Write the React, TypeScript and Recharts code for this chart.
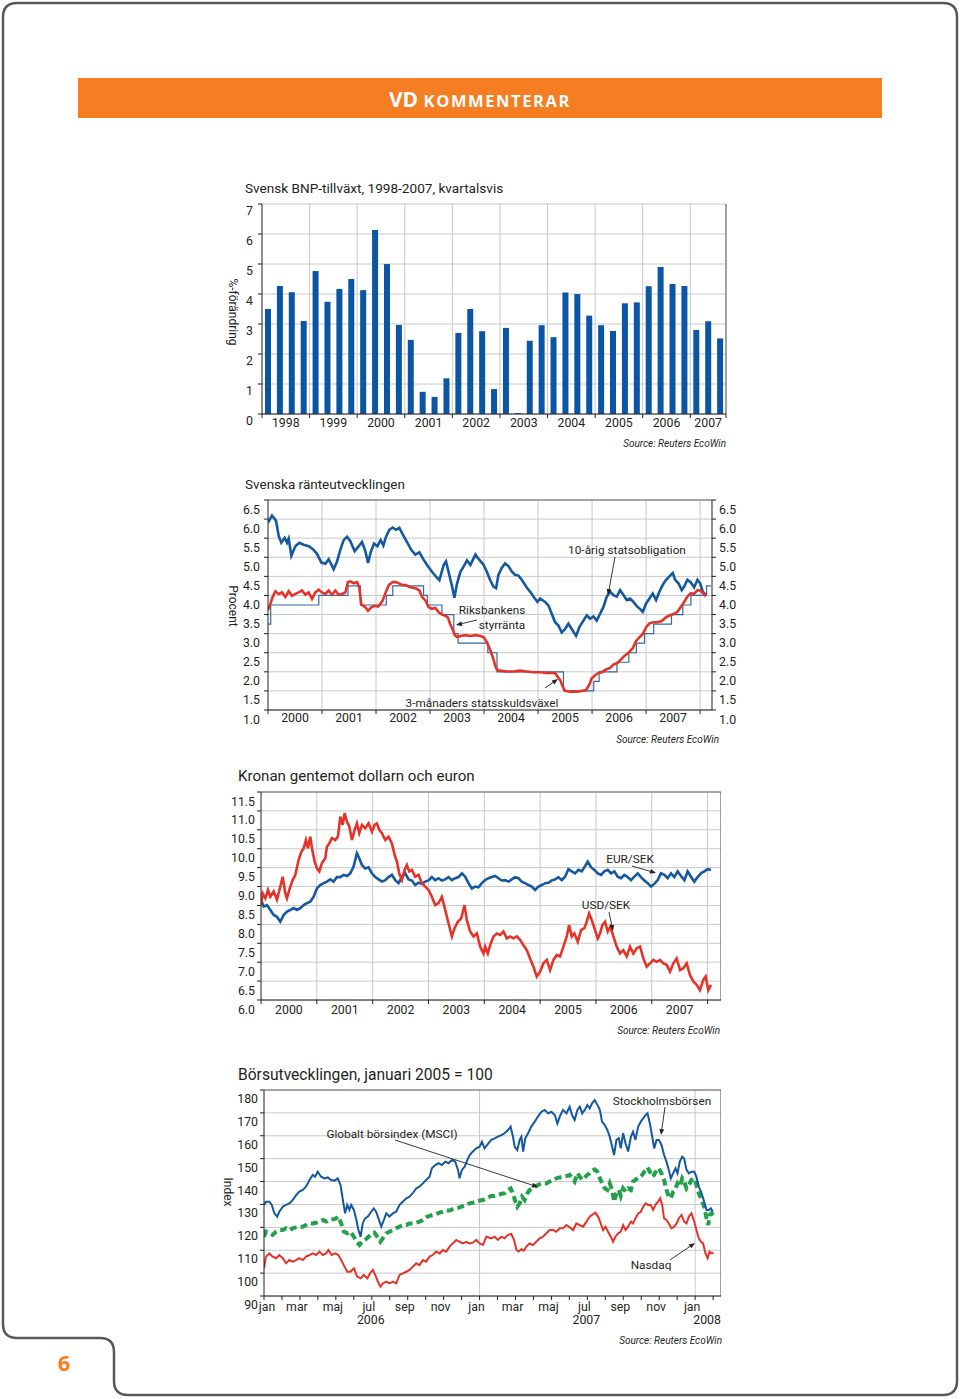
import React from "react";
import { BarChart, Bar, LineChart, Line, XAxis, YAxis, CartesianGrid, ReferenceLine } from "recharts";

type Pt = [number, number];

const FONT = "Roboto, 'DejaVu Sans', sans-serif";
const INK = "#231f20";
const GRID = "#c8c8c8";
const BLUE = "#14589f";
const RED = "#e4342a";
const GREEN = "#23a04a";
const ORANGE = "#f47e21";
const TICK_FS = 12.3;
const NOTE_FS = 11.8;

// ---------- Svensk BNP-tillväxt (kvartal, 1998Q1 - 2007Q3) ----------
const bnpYears = [1998, 1999, 2000, 2001, 2002, 2003, 2004, 2005, 2006, 2007];
const bnpGrowth = [
  3.5, 4.27, 4.06, 3.1, 4.77, 3.74, 4.17, 4.5, 4.13, 6.13, 5.0, 2.97, 2.47, 0.74, 0.57, 1.19,
  2.7, 3.5, 2.76, 0.83, 2.87, 0.03, 2.44, 2.96, 2.56, 4.05, 4.0, 3.28, 2.96, 2.77, 3.69, 3.72,
  4.26, 4.9, 4.33, 4.27, 2.8, 3.09, 2.52,
];
const bnpTicksY = [0, 1, 2, 3, 4, 5, 6, 7];

// ---------- Svenska ränteutvecklingen ----------
const rateYears = [2000, 2001, 2002, 2003, 2004, 2005, 2006, 2007];
const rateTicksY = [1, 1.5, 2, 2.5, 3, 3.5, 4, 4.5, 5, 5.5, 6, 6.5];
const bond10y: Pt[] = [
  [2000.0, 5.91], [2000.074, 6.09], [2000.148, 5.96], [2000.198, 5.56], [2000.247, 5.38], [2000.309, 5.51],
  [2000.352, 5.38], [2000.383, 5.49], [2000.432, 5.04], [2000.506, 5.29], [2000.58, 5.38], [2000.66, 5.33],
  [2000.753, 5.29], [2000.827, 5.22], [2000.907, 5.09], [2000.988, 4.86], [2001.062, 4.83], [2001.123, 4.95],
  [2001.216, 4.69], [2001.278, 4.89], [2001.34, 5.2], [2001.401, 5.45], [2001.463, 5.54], [2001.525, 5.42],
  [2001.605, 5.16], [2001.679, 5.29], [2001.741, 5.4], [2001.802, 5.16], [2001.852, 4.85], [2001.901, 5.13],
  [2001.963, 5.36], [2002.025, 5.29], [2002.086, 5.45], [2002.136, 5.31], [2002.185, 5.54], [2002.247, 5.72],
  [2002.309, 5.78], [2002.37, 5.72], [2002.432, 5.77], [2002.494, 5.6], [2002.574, 5.4], [2002.648, 5.2],
  [2002.728, 5.07], [2002.802, 5.13], [2002.883, 4.93], [2002.957, 4.77], [2003.037, 4.62], [2003.111, 4.49],
  [2003.173, 4.4], [2003.253, 4.8], [2003.296, 4.89], [2003.358, 4.53], [2003.407, 4.24], [2003.451, 3.94],
  [2003.5, 4.31], [2003.562, 4.62], [2003.623, 4.76], [2003.685, 4.92], [2003.747, 4.8], [2003.84, 5.07],
  [2003.914, 4.93], [2003.988, 4.81], [2004.049, 4.63], [2004.111, 4.41], [2004.173, 4.23], [2004.222, 4.19],
  [2004.266, 4.54], [2004.327, 4.72], [2004.389, 4.84], [2004.451, 4.77], [2004.512, 4.63], [2004.574, 4.54],
  [2004.636, 4.52], [2004.698, 4.41], [2004.79, 4.21], [2004.852, 4.1], [2004.914, 3.97], [2004.988, 3.83],
  [2005.037, 3.92], [2005.13, 3.83], [2005.191, 3.74], [2005.253, 3.52], [2005.315, 3.3], [2005.377, 3.21],
  [2005.438, 3.03], [2005.5, 3.12], [2005.562, 3.26], [2005.623, 3.12], [2005.704, 2.94], [2005.765, 3.17],
  [2005.84, 3.34], [2005.901, 3.48], [2005.963, 3.39], [2006.025, 3.45], [2006.086, 3.34], [2006.148, 3.52],
  [2006.21, 3.7], [2006.272, 3.97], [2006.333, 4.1], [2006.395, 4.01], [2006.457, 3.97], [2006.519, 4.14],
  [2006.58, 4.01], [2006.642, 3.88], [2006.704, 3.92], [2006.765, 3.83], [2006.827, 3.72], [2006.877, 3.66],
  [2006.938, 3.57], [2007.0, 3.79], [2007.062, 3.92], [2007.123, 4.05], [2007.185, 3.88], [2007.247, 4.1],
  [2007.309, 4.28], [2007.37, 4.41], [2007.432, 4.5], [2007.494, 4.59], [2007.537, 4.41], [2007.599, 4.32],
  [2007.66, 4.14], [2007.704, 4.23], [2007.765, 4.41], [2007.827, 4.34], [2007.889, 4.21], [2007.951, 4.41],
  [2008.0, 4.32], [2008.049, 4.1], [2008.111, 4.01],
];
const tbill3m: Pt[] = [
  [2000.0, 3.62], [2000.043, 3.78], [2000.086, 3.96], [2000.136, 4.11], [2000.198, 4.04], [2000.259, 4.08],
  [2000.321, 3.96], [2000.383, 4.11], [2000.444, 3.99], [2000.506, 4.04], [2000.568, 4.08], [2000.63, 4.13],
  [2000.691, 4.02], [2000.753, 4.08], [2000.815, 3.91], [2000.877, 4.08], [2000.938, 4.15], [2001.0, 4.08],
  [2001.062, 4.04], [2001.123, 4.13], [2001.185, 4.02], [2001.247, 4.13], [2001.309, 4.02], [2001.37, 4.04],
  [2001.432, 4.08], [2001.481, 4.35], [2001.525, 4.37], [2001.586, 4.32], [2001.648, 4.35], [2001.691, 4.2],
  [2001.728, 3.76], [2001.79, 3.71], [2001.852, 3.6], [2001.914, 3.69], [2001.975, 3.73], [2002.037, 3.71],
  [2002.08, 3.78], [2002.123, 3.87], [2002.173, 4.06], [2002.235, 4.27], [2002.309, 4.35], [2002.37, 4.35],
  [2002.432, 4.31], [2002.494, 4.27], [2002.556, 4.27], [2002.617, 4.22], [2002.679, 4.2], [2002.741, 4.18],
  [2002.802, 4.13], [2002.852, 3.96], [2002.914, 3.87], [2002.975, 3.69], [2003.037, 3.65], [2003.099, 3.67],
  [2003.16, 3.56], [2003.222, 3.5], [2003.284, 3.47], [2003.333, 3.42], [2003.377, 3.23], [2003.42, 3.11],
  [2003.457, 2.96], [2003.5, 2.91], [2003.562, 2.94], [2003.654, 2.96], [2003.747, 2.94], [2003.84, 2.96],
  [2003.932, 2.94], [2004.0, 2.9], [2004.06, 2.75], [2004.12, 2.55], [2004.18, 2.3], [2004.22, 2.1],
  [2004.26, 2.03], [2004.296, 2.03], [2004.42, 2.01], [2004.543, 2.01], [2004.667, 2.03], [2004.79, 2.01],
  [2004.914, 1.99], [2005.037, 1.99], [2005.16, 1.97], [2005.253, 1.97], [2005.315, 1.97], [2005.358, 1.88],
  [2005.407, 1.79], [2005.457, 1.61], [2005.5, 1.5], [2005.593, 1.48], [2005.716, 1.48], [2005.809, 1.5],
  [2005.889, 1.52], [2005.951, 1.67], [2005.994, 1.83], [2006.056, 1.91], [2006.117, 1.97], [2006.179, 1.99],
  [2006.259, 2.06], [2006.333, 2.1], [2006.395, 2.19], [2006.469, 2.23], [2006.531, 2.32], [2006.593, 2.41],
  [2006.673, 2.5], [2006.753, 2.62], [2006.815, 2.81], [2006.877, 2.9], [2006.938, 2.99], [2007.0, 3.17],
  [2007.062, 3.27], [2007.136, 3.3], [2007.21, 3.3], [2007.29, 3.33], [2007.37, 3.43], [2007.444, 3.48],
  [2007.519, 3.52], [2007.58, 3.57], [2007.642, 3.7], [2007.704, 3.83], [2007.765, 3.97], [2007.827, 4.06],
  [2007.889, 4.04], [2007.951, 4.14], [2008.0, 4.13], [2008.062, 4.05], [2008.111, 3.98],
];
const repoRate: Pt[] = [
  [2000.0, 3.25], [2000.05, 3.75], [2000.94, 4.0], [2001.48, 4.25], [2001.71, 3.75], [2002.19, 4.0],
  [2002.31, 4.25], [2002.88, 4.0], [2002.95, 3.75], [2003.22, 3.5], [2003.44, 3.0], [2003.52, 2.75],
  [2004.07, 2.5], [2004.24, 2.0], [2005.47, 1.5], [2006.03, 1.75], [2006.13, 2.0], [2006.46, 2.25],
  [2006.68, 2.5], [2006.82, 2.75], [2006.97, 3.0], [2007.14, 3.25], [2007.47, 3.5], [2007.68, 3.75],
  [2007.83, 4.0], [2008.12, 4.25], [2008.2, 4.25],
];

// ---------- Kronan gentemot dollarn och euron ----------
const fxTicksY = [6, 6.5, 7, 7.5, 8, 8.5, 9, 9.5, 10, 10.5, 11, 11.5];
const eurSek: Pt[] = [
  [2000.0, 8.65], [2000.048, 8.47], [2000.107, 8.51], [2000.167, 8.38], [2000.227, 8.25], [2000.286, 8.2],
  [2000.346, 8.07], [2000.406, 8.25], [2000.465, 8.34], [2000.525, 8.38], [2000.585, 8.43], [2000.644, 8.38],
  [2000.704, 8.43], [2000.764, 8.51], [2000.823, 8.56], [2000.883, 8.6], [2000.943, 8.73], [2001.002, 8.95],
  [2001.062, 9.04], [2001.122, 9.09], [2001.181, 9.13], [2001.241, 9.19], [2001.301, 9.13], [2001.36, 9.25],
  [2001.42, 9.25], [2001.48, 9.31], [2001.539, 9.28], [2001.599, 9.35], [2001.659, 9.53], [2001.718, 9.88],
  [2001.76, 9.75], [2001.808, 9.57], [2001.868, 9.48], [2001.927, 9.51], [2001.987, 9.35], [2002.047, 9.25],
  [2002.106, 9.19], [2002.166, 9.13], [2002.226, 9.17], [2002.285, 9.25], [2002.345, 9.31], [2002.405, 9.17],
  [2002.464, 9.09], [2002.524, 9.25], [2002.584, 9.35], [2002.643, 9.19], [2002.703, 9.16], [2002.763, 9.04],
  [2002.822, 9.1], [2002.882, 9.07], [2002.942, 9.13], [2003.001, 9.16], [2003.061, 9.25], [2003.121, 9.17],
  [2003.18, 9.22], [2003.24, 9.16], [2003.3, 9.19], [2003.359, 9.25], [2003.419, 9.17], [2003.478, 9.22],
  [2003.538, 9.25], [2003.598, 9.35], [2003.658, 9.26], [2003.717, 9.09], [2003.777, 8.95], [2003.837, 9.0],
  [2003.896, 8.98], [2003.956, 9.09], [2004.015, 9.17], [2004.075, 9.22], [2004.134, 9.25], [2004.194, 9.28],
  [2004.254, 9.22], [2004.313, 9.16], [2004.373, 9.17], [2004.433, 9.13], [2004.492, 9.19], [2004.552, 9.25],
  [2004.612, 9.22], [2004.671, 9.13], [2004.731, 9.09], [2004.791, 9.04], [2004.85, 9.0], [2004.91, 8.91],
  [2004.97, 9.0], [2005.029, 9.04], [2005.089, 9.09], [2005.149, 9.1], [2005.208, 9.16], [2005.268, 9.19],
  [2005.328, 9.25], [2005.387, 9.17], [2005.447, 9.26], [2005.507, 9.46], [2005.566, 9.4], [2005.626, 9.35],
  [2005.686, 9.44], [2005.745, 9.4], [2005.805, 9.54], [2005.853, 9.66], [2005.912, 9.51], [2005.972, 9.44],
  [2006.032, 9.35], [2006.091, 9.31], [2006.151, 9.4], [2006.211, 9.44], [2006.27, 9.35], [2006.33, 9.4],
  [2006.39, 9.26], [2006.449, 9.22], [2006.509, 9.31], [2006.569, 9.25], [2006.628, 9.17], [2006.688, 9.26],
  [2006.748, 9.35], [2006.807, 9.25], [2006.867, 9.16], [2006.927, 9.09], [2006.986, 9.0], [2007.046, 9.07],
  [2007.106, 9.17], [2007.165, 9.35], [2007.225, 9.31], [2007.285, 9.22], [2007.344, 9.35], [2007.404, 9.25],
  [2007.464, 9.4], [2007.523, 9.28], [2007.583, 9.17], [2007.643, 9.4], [2007.702, 9.26], [2007.762, 9.13],
  [2007.822, 9.25], [2007.881, 9.35], [2007.941, 9.4], [2008.001, 9.46], [2008.06, 9.44],
];
const usdSek: Pt[] = [
  [2000.0, 8.51], [2000.03, 8.82], [2000.078, 8.69], [2000.125, 8.91], [2000.167, 8.73], [2000.227, 8.87],
  [2000.286, 8.65], [2000.346, 9.0], [2000.388, 9.26], [2000.436, 8.82], [2000.465, 8.69], [2000.507, 8.91],
  [2000.567, 9.17], [2000.615, 9.31], [2000.674, 9.7], [2000.722, 9.92], [2000.764, 10.01], [2000.805, 10.23],
  [2000.841, 10.01], [2000.883, 10.32], [2000.913, 10.01], [2000.961, 9.66], [2001.002, 9.48], [2001.044, 9.4],
  [2001.092, 9.62], [2001.152, 9.75], [2001.181, 10.06], [2001.223, 10.14], [2001.271, 10.28], [2001.331, 10.23],
  [2001.378, 10.32], [2001.42, 10.85], [2001.462, 10.63], [2001.498, 10.94], [2001.539, 10.72], [2001.581, 10.59],
  [2001.629, 10.23], [2001.677, 10.5], [2001.718, 10.67], [2001.76, 10.41], [2001.808, 10.63], [2001.868, 10.54],
  [2001.927, 10.67], [2001.987, 10.45], [2002.035, 10.63], [2002.076, 10.67], [2002.118, 10.5], [2002.166, 10.41],
  [2002.226, 10.23], [2002.285, 10.32], [2002.345, 10.14], [2002.393, 9.84], [2002.434, 9.66], [2002.476, 9.35],
  [2002.524, 9.17], [2002.572, 9.44], [2002.613, 9.57], [2002.655, 9.4], [2002.703, 9.44], [2002.763, 9.26],
  [2002.822, 9.31], [2002.882, 9.09], [2002.942, 9.0], [2003.001, 8.91], [2003.061, 8.73], [2003.121, 8.51],
  [2003.18, 8.56], [2003.24, 8.73], [2003.3, 8.38], [2003.359, 8.03], [2003.419, 7.68], [2003.467, 7.9],
  [2003.526, 8.07], [2003.586, 8.16], [2003.646, 8.51], [2003.687, 8.11], [2003.747, 7.81], [2003.807, 7.68],
  [2003.866, 7.76], [2003.926, 7.41], [2003.986, 7.23], [2004.015, 7.41], [2004.063, 7.23], [2004.105, 7.45],
  [2004.164, 7.68], [2004.224, 7.76], [2004.283, 7.72], [2004.343, 7.81], [2004.403, 7.63], [2004.462, 7.68],
  [2004.522, 7.63], [2004.582, 7.68], [2004.641, 7.59], [2004.701, 7.45], [2004.761, 7.32], [2004.82, 7.1],
  [2004.88, 6.88], [2004.94, 6.62], [2004.999, 6.75], [2005.059, 6.97], [2005.119, 7.06], [2005.178, 6.79],
  [2005.238, 7.06], [2005.298, 7.19], [2005.357, 7.15], [2005.417, 7.41], [2005.477, 7.68], [2005.519, 7.98],
  [2005.566, 7.68], [2005.614, 7.76], [2005.674, 7.54], [2005.733, 7.85], [2005.793, 7.9], [2005.835, 8.07],
  [2005.877, 8.29], [2005.924, 8.12], [2005.984, 7.85], [2006.032, 7.63], [2006.073, 7.76], [2006.115, 7.98],
  [2006.163, 8.07], [2006.211, 7.81], [2006.258, 7.94], [2006.312, 7.68], [2006.372, 7.41], [2006.431, 7.23],
  [2006.491, 7.32], [2006.551, 7.15], [2006.61, 7.41], [2006.67, 7.23], [2006.73, 7.37], [2006.79, 7.41],
  [2006.849, 7.1], [2006.909, 6.88], [2006.968, 6.97], [2007.028, 7.06], [2007.088, 7.01], [2007.147, 7.06],
  [2007.207, 6.97], [2007.267, 6.93], [2007.327, 6.75], [2007.386, 6.97], [2007.446, 7.1], [2007.506, 6.79],
  [2007.565, 6.84], [2007.625, 6.97], [2007.684, 6.66], [2007.744, 6.49], [2007.804, 6.4], [2007.863, 6.26],
  [2007.923, 6.53], [2007.965, 6.62], [2008.013, 6.26], [2008.06, 6.4],
];

// ---------- Börsutvecklingen, januari 2005 = 100 ----------
const monthNames = ["jan", "feb", "mar", "apr", "maj", "jun", "jul", "aug", "sep", "okt", "nov", "dec"];
const stockTicksY = [90, 100, 110, 120, 130, 140, 150, 160, 170, 180];
const stockholm: Pt[] = [
  [2006.0, 129.8], [2006.009, 131.2], [2006.025, 131.2], [2006.036, 129.8], [2006.048, 126.1], [2006.061, 124.7],
  [2006.071, 126.8], [2006.087, 129.0], [2006.102, 129.8], [2006.118, 130.5], [2006.133, 131.9], [2006.149, 134.1],
  [2006.164, 135.6], [2006.18, 136.3], [2006.195, 137.8], [2006.211, 140.7], [2006.226, 142.9], [2006.237, 142.1],
  [2006.249, 144.3], [2006.265, 142.1], [2006.28, 141.4], [2006.296, 141.8], [2006.311, 140.7], [2006.327, 140.4],
  [2006.342, 141.4], [2006.355, 138.5], [2006.366, 131.9], [2006.376, 126.1], [2006.386, 129.8], [2006.396, 127.6],
  [2006.404, 129.8], [2006.417, 127.6], [2006.427, 123.9], [2006.438, 118.8], [2006.448, 115.9], [2006.458, 121.7],
  [2006.469, 123.9], [2006.482, 124.7], [2006.497, 126.8], [2006.509, 128.3], [2006.52, 126.8], [2006.531, 123.9],
  [2006.544, 120.3], [2006.556, 123.2], [2006.567, 126.1], [2006.582, 124.7], [2006.598, 126.1], [2006.613, 126.8],
  [2006.629, 129.8], [2006.644, 131.2], [2006.66, 132.7], [2006.675, 133.4], [2006.69, 134.9], [2006.706, 137.0],
  [2006.721, 137.8], [2006.737, 139.2], [2006.752, 140.7], [2006.768, 142.1], [2006.779, 145.8], [2006.794, 147.2],
  [2006.81, 148.0], [2006.825, 147.2], [2006.841, 148.7], [2006.856, 148.0], [2006.872, 149.4], [2006.887, 148.7],
  [2006.9, 145.1], [2006.907, 141.4], [2006.918, 145.1], [2006.931, 146.5], [2006.943, 149.4], [2006.954, 151.6],
  [2006.969, 153.1], [2006.985, 154.5], [2007.0, 155.2], [2007.011, 157.4], [2007.023, 154.5], [2007.054, 158.2],
  [2007.07, 158.9], [2007.085, 159.6], [2007.101, 160.3], [2007.116, 161.1], [2007.132, 162.5], [2007.144, 164.0],
  [2007.155, 159.6], [2007.163, 155.2], [2007.175, 153.8], [2007.186, 158.2], [2007.194, 159.6], [2007.202, 153.1],
  [2007.212, 158.9], [2007.225, 161.1], [2007.24, 164.0], [2007.256, 166.2], [2007.271, 168.4], [2007.287, 170.5],
  [2007.302, 171.3], [2007.318, 169.8], [2007.333, 170.5], [2007.349, 169.1], [2007.361, 165.4], [2007.372, 168.4],
  [2007.387, 171.3], [2007.403, 169.8], [2007.418, 172.7], [2007.429, 169.1], [2007.441, 166.9], [2007.454, 171.3],
  [2007.465, 172.7], [2007.476, 169.8], [2007.488, 171.3], [2007.5, 173.4], [2007.511, 172.0], [2007.522, 174.2],
  [2007.534, 175.6], [2007.547, 173.4], [2007.558, 171.3], [2007.568, 166.2], [2007.581, 164.7], [2007.593, 162.5],
  [2007.604, 159.6], [2007.615, 155.2], [2007.624, 151.6], [2007.635, 158.2], [2007.646, 158.9], [2007.655, 154.5],
  [2007.666, 161.1], [2007.677, 156.7], [2007.689, 153.1], [2007.702, 159.6], [2007.712, 161.8], [2007.723, 158.2],
  [2007.736, 164.0], [2007.748, 166.2], [2007.759, 167.6], [2007.77, 169.1], [2007.779, 169.8], [2007.79, 165.4],
  [2007.801, 159.6], [2007.81, 154.5], [2007.821, 158.2], [2007.832, 158.2], [2007.844, 156.0], [2007.856, 151.6],
  [2007.867, 148.7], [2007.878, 145.1], [2007.887, 141.4], [2007.898, 143.6], [2007.909, 145.8], [2007.918, 143.6],
  [2007.929, 148.7], [2007.94, 150.9], [2007.949, 150.1], [2007.96, 145.1], [2007.971, 143.6], [2007.983, 144.3],
  [2007.996, 144.3], [2008.006, 142.1], [2008.017, 137.8], [2008.03, 134.9], [2008.042, 131.2], [2008.053, 127.6],
  [2008.064, 127.6], [2008.073, 128.3], [2008.082, 126.8],
];
const msci: Pt[] = [
  [2006.0, 115.9], [2006.009, 118.1], [2006.025, 117.4], [2006.04, 116.7], [2006.056, 118.1], [2006.071, 118.8],
  [2006.087, 118.8], [2006.102, 119.6], [2006.118, 118.8], [2006.133, 119.6], [2006.149, 120.0], [2006.164, 120.3],
  [2006.18, 120.3], [2006.195, 121.0], [2006.211, 121.7], [2006.226, 121.7], [2006.242, 122.0], [2006.257, 122.5],
  [2006.273, 123.2], [2006.288, 122.5], [2006.304, 123.2], [2006.319, 123.5], [2006.334, 123.9], [2006.345, 124.7],
  [2006.358, 121.7], [2006.37, 118.1], [2006.386, 117.4], [2006.401, 118.1], [2006.417, 115.9], [2006.429, 113.7],
  [2006.443, 112.3], [2006.454, 113.7], [2006.469, 114.5], [2006.485, 115.9], [2006.5, 117.4], [2006.512, 117.7],
  [2006.525, 115.9], [2006.54, 113.7], [2006.551, 115.2], [2006.567, 117.4], [2006.582, 118.1], [2006.598, 118.8],
  [2006.613, 119.6], [2006.629, 120.3], [2006.644, 121.0], [2006.66, 121.0], [2006.675, 121.7], [2006.69, 121.7],
  [2006.706, 122.0], [2006.721, 122.5], [2006.737, 123.2], [2006.752, 124.4], [2006.768, 125.0], [2006.783, 125.4],
  [2006.799, 125.8], [2006.814, 126.4], [2006.83, 126.8], [2006.845, 127.3], [2006.861, 127.3], [2006.876, 127.9],
  [2006.892, 128.3], [2006.907, 128.7], [2006.923, 129.3], [2006.938, 129.8], [2006.954, 130.5], [2006.969, 130.8],
  [2006.985, 131.2], [2007.0, 131.7], [2007.016, 131.9], [2007.054, 133.7], [2007.07, 133.7], [2007.085, 134.1],
  [2007.101, 134.6], [2007.116, 134.9], [2007.132, 136.3], [2007.144, 137.0], [2007.155, 134.9], [2007.166, 131.2],
  [2007.175, 129.0], [2007.186, 130.5], [2007.197, 133.4], [2007.209, 131.9], [2007.222, 134.9], [2007.232, 136.3],
  [2007.248, 137.0], [2007.263, 138.1], [2007.279, 138.9], [2007.294, 139.2], [2007.31, 139.2], [2007.325, 140.0],
  [2007.341, 140.7], [2007.356, 141.4], [2007.372, 141.8], [2007.387, 142.1], [2007.403, 142.4], [2007.418, 142.9],
  [2007.429, 141.4], [2007.441, 140.0], [2007.454, 143.6], [2007.465, 142.1], [2007.476, 140.7], [2007.488, 141.8],
  [2007.5, 142.9], [2007.511, 143.6], [2007.522, 144.8], [2007.534, 145.3], [2007.547, 144.3], [2007.558, 141.4],
  [2007.568, 139.2], [2007.581, 137.0], [2007.593, 136.3], [2007.604, 139.2], [2007.615, 136.3], [2007.624, 131.2],
  [2007.635, 134.9], [2007.646, 136.3], [2007.655, 133.7], [2007.666, 137.0], [2007.677, 135.6], [2007.689, 137.0],
  [2007.702, 136.3], [2007.712, 140.0], [2007.723, 140.7], [2007.736, 141.8], [2007.748, 142.1], [2007.759, 143.6],
  [2007.77, 145.1], [2007.779, 146.2], [2007.79, 144.3], [2007.801, 142.1], [2007.81, 142.9], [2007.821, 145.1],
  [2007.832, 145.8], [2007.844, 143.6], [2007.856, 140.7], [2007.867, 136.3], [2007.878, 133.4], [2007.887, 132.7],
  [2007.898, 135.6], [2007.909, 137.0], [2007.918, 139.2], [2007.929, 137.8], [2007.94, 141.4], [2007.949, 140.0],
  [2007.96, 137.0], [2007.971, 138.5], [2007.983, 140.7], [2007.996, 141.4], [2008.006, 138.5], [2008.017, 134.9],
  [2008.03, 131.9], [2008.042, 129.0], [2008.053, 123.9], [2008.061, 121.0], [2008.068, 125.4], [2008.076, 126.1],
  [2008.085, 125.4],
];
const nasdaq: Pt[] = [
  [2006.0, 102.1], [2006.009, 107.2], [2006.025, 108.6], [2006.04, 107.2], [2006.056, 106.5], [2006.071, 107.9],
  [2006.087, 106.5], [2006.102, 104.3], [2006.118, 105.7], [2006.133, 105.0], [2006.149, 105.7], [2006.164, 106.5],
  [2006.18, 105.7], [2006.195, 107.2], [2006.211, 107.9], [2006.226, 108.6], [2006.242, 107.9], [2006.257, 109.4],
  [2006.273, 107.9], [2006.288, 108.6], [2006.299, 110.1], [2006.314, 107.9], [2006.33, 108.6], [2006.345, 107.9],
  [2006.358, 105.7], [2006.37, 103.5], [2006.386, 100.6], [2006.401, 100.6], [2006.417, 102.1], [2006.432, 98.5],
  [2006.448, 97.7], [2006.463, 99.2], [2006.479, 97.7], [2006.494, 100.2], [2006.505, 101.4], [2006.516, 99.2],
  [2006.528, 96.3], [2006.54, 94.1], [2006.551, 95.5], [2006.567, 96.3], [2006.582, 95.5], [2006.598, 96.3],
  [2006.613, 95.5], [2006.629, 99.2], [2006.644, 99.9], [2006.66, 100.6], [2006.675, 101.4], [2006.69, 102.8],
  [2006.706, 104.3], [2006.721, 103.5], [2006.737, 105.7], [2006.752, 105.0], [2006.768, 107.2], [2006.783, 107.9],
  [2006.799, 109.4], [2006.814, 108.6], [2006.83, 110.1], [2006.845, 109.4], [2006.861, 111.6], [2006.876, 113.0],
  [2006.892, 114.5], [2006.907, 113.7], [2006.923, 113.0], [2006.938, 113.7], [2006.954, 113.0], [2006.969, 113.3],
  [2006.985, 114.5], [2007.0, 113.0], [2007.016, 112.3], [2007.031, 115.9], [2007.054, 115.2], [2007.07, 115.9],
  [2007.085, 114.5], [2007.101, 115.9], [2007.116, 115.2], [2007.132, 116.7], [2007.147, 117.1], [2007.16, 114.5],
  [2007.171, 110.1], [2007.181, 109.4], [2007.194, 110.4], [2007.206, 109.8], [2007.217, 111.6], [2007.232, 113.0],
  [2007.248, 112.3], [2007.263, 113.7], [2007.279, 115.2], [2007.294, 115.9], [2007.31, 117.4], [2007.325, 118.8],
  [2007.341, 118.8], [2007.356, 118.1], [2007.372, 119.6], [2007.387, 119.6], [2007.403, 121.0], [2007.418, 120.0],
  [2007.434, 118.8], [2007.449, 121.7], [2007.465, 121.0], [2007.48, 120.3], [2007.496, 122.5], [2007.511, 124.7],
  [2007.527, 125.8], [2007.537, 126.4], [2007.55, 124.7], [2007.562, 121.7], [2007.573, 118.8], [2007.584, 120.3],
  [2007.596, 118.1], [2007.609, 115.9], [2007.619, 113.7], [2007.63, 115.9], [2007.643, 117.4], [2007.655, 118.1],
  [2007.666, 121.0], [2007.677, 118.8], [2007.689, 120.3], [2007.702, 122.5], [2007.712, 121.7], [2007.723, 123.9],
  [2007.736, 126.1], [2007.748, 126.8], [2007.759, 129.0], [2007.77, 130.5], [2007.782, 129.8], [2007.794, 129.8],
  [2007.805, 127.6], [2007.816, 129.8], [2007.828, 131.2], [2007.838, 132.7], [2007.847, 129.8], [2007.856, 123.9],
  [2007.867, 123.2], [2007.878, 121.7], [2007.89, 119.6], [2007.903, 120.3], [2007.914, 121.7], [2007.924, 123.9],
  [2007.937, 125.4], [2007.949, 122.5], [2007.96, 121.7], [2007.971, 124.7], [2007.983, 126.1], [2007.996, 122.5],
  [2008.006, 118.8], [2008.017, 115.2], [2008.027, 113.7], [2008.037, 113.0], [2008.048, 108.6], [2008.058, 106.5],
  [2008.067, 109.4], [2008.076, 108.6], [2008.085, 108.9],
];

const rows = (pts: Pt[]) => pts.map(([t, v]) => ({ t, v }));

// ---------- ticks ----------
const txt = { fontFamily: FONT, fill: INK };

function leftTick(digits: number, dy: number, gap: number) {
  return (p: any) => (
    <g>
      <line x1={p.x - 4} x2={p.x} y1={p.y} y2={p.y} stroke={INK} />
      <text x={p.x - gap} y={p.y + dy} textAnchor="end" dominantBaseline="central" fontSize={TICK_FS} {...txt}>
        {Number(p.payload.value).toFixed(digits)}
      </text>
    </g>
  );
}

function rightTick(digits: number, dy: number, gap: number) {
  return (p: any) => (
    <g>
      <line x1={p.x} x2={p.x + 4} y1={p.y} y2={p.y} stroke={INK} />
      <text x={p.x + gap} y={p.y + dy} textAnchor="start" dominantBaseline="central" fontSize={TICK_FS} {...txt}>
        {Number(p.payload.value).toFixed(digits)}
      </text>
    </g>
  );
}

function yearTick(labelDy: number, edge: number) {
  return (p: any) => {
    const v: number = p.payload.value;
    if (Number.isInteger(v) || v === edge) {
      return <line x1={p.x} x2={p.x} y1={p.y} y2={p.y + 4} stroke={INK} />;
    }
    return (
      <text x={p.x} y={p.y + labelDy} textAnchor="middle" dominantBaseline="central" fontSize={TICK_FS} {...txt}>
        {Math.floor(v)}
      </text>
    );
  };
}

function monthTick(p: any) {
  const v: number = p.payload.value;
  const k = Math.round((v - 2006) * 12);
  const m = k % 12;
  const year = 2006 + Math.floor(k / 12);
  return (
    <g>
      <line x1={p.x} x2={p.x} y1={p.y} y2={p.y + 4} stroke={INK} />
      {m % 2 === 0 && (
        <text x={p.x + (k === 0 ? 3 : -3)} y={p.y + 11} textAnchor="middle" dominantBaseline="central" fontSize={TICK_FS} {...txt}>
          {monthNames[m]}
        </text>
      )}
      {(m === 6 || (m === 0 && year === 2008)) && (
        <text x={p.x + (m === 6 ? -1 : 12)} y={p.y + 24} textAnchor="middle" dominantBaseline="central" fontSize={TICK_FS} {...txt}>
          {year}
        </text>
      )}
    </g>
  );
}

const bnpTicksX = bnpYears.flatMap((y) => [y, y === 2007 ? 2007.375 : y + 0.5]).concat(2007.75);
const yearTicksX = rateYears.flatMap((y) => [y, y + 0.5]).concat(2008);
const monthTicksX = Array.from({ length: 26 }, (_, k) => 2006 + k / 12);

// ---------- annotations ----------
function Arrow({ x1, y1, x2, y2 }: { x1: number; y1: number; x2: number; y2: number }) {
  const a = Math.atan2(y2 - y1, x2 - x1);
  const L = 6;
  const w = 2.4;
  const bx = x2 - L * Math.cos(a);
  const by = y2 - L * Math.sin(a);
  const px = -Math.sin(a) * w;
  const py = Math.cos(a) * w;
  return (
    <g>
      <line x1={x1} y1={y1} x2={bx} y2={by} stroke={INK} strokeWidth={0.9} />
      <polygon points={`${x2},${y2} ${bx + px},${by + py} ${bx - px},${by - py}`} fill={INK} />
    </g>
  );
}

function Label({ x, y, children, size = NOTE_FS, anchor = "middle", italic = false, rotate = 0 }: any) {
  return (
    <text
      x={x}
      y={y}
      textAnchor={anchor}
      dominantBaseline="central"
      fontSize={size}
      fontStyle={italic ? "italic" : "normal"}
      transform={rotate ? `rotate(${rotate}, ${x}, ${y})` : undefined}
      {...txt}
    >
      {children}
    </text>
  );
}

const abs = (left: number, top: number): React.CSSProperties => ({ position: "absolute", left, top });

export default function App() {
  return (
    <div style={{ position: "absolute", left: 0, top: 0, width: 960, height: 1399, background: "#fff", overflow: "hidden", fontFamily: FONT }}>
      <div
        style={{
          position: "absolute",
          left: 78,
          top: 78,
          width: 804,
          height: 40,
          background: ORANGE,
          color: "#fff",
          fontFamily: "'Open Sans', sans-serif",
          fontWeight: 700,
          textAlign: "center",
          lineHeight: "42px",
        }}
      >
        <span style={{ fontSize: 21 }}>VD </span>
        <span style={{ fontSize: 16.5, letterSpacing: 1.6 }}>KOMMENTERAR</span>
      </div>

      {/* Chart 1 */}
      <div style={abs(200, 194)}>
        <BarChart width={540} height={244} data={bnpGrowth.map((v, i) => ({ t: bnpYears[0] + (i + 0.5) / 4, v }))} margin={{ top: 10, right: 14, left: 0, bottom: 0 }}>
          <CartesianGrid vertical={false} stroke={GRID} />
          {bnpYears.slice(1).map((y) => (
            <ReferenceLine key={y} x={y} stroke={GRID} />
          ))}
          <ReferenceLine x={2007.75} stroke="#444" />
          <XAxis type="number" dataKey="t" domain={[1998, 2007.75]} ticks={bnpTicksX} interval={0} height={24} tickSize={0} tickMargin={0} tickLine={false} axisLine={{ stroke: INK }} tick={yearTick(9, 2007.75)} allowDataOverflow />
          <YAxis type="number" domain={[0, 7]} ticks={bnpTicksY} interval={0} width={62} tickSize={0} tickMargin={0} tickLine={false} axisLine={{ stroke: INK }} tick={leftTick(0, 7, 9)} />
          <Bar dataKey="v" fill="#0b55a5" barSize={6} isAnimationActive={false} />
        </BarChart>
      </div>

      {/* Chart 2 */}
      <div style={abs(200, 490)}>
        <LineChart width={560} height={244} margin={{ top: 10, right: 0, left: 0, bottom: 0 }}>
          <CartesianGrid vertical={false} stroke={GRID} />
          {rateYears.slice(1).concat(2008).map((y) => (
            <ReferenceLine key={y} x={y} stroke={GRID} />
          ))}
          <ReferenceLine y={6.5} stroke="#666" />
          <XAxis type="number" dataKey="t" domain={[2000, 2008.22]} ticks={yearTicksX} interval={0} height={24} tickSize={0} tickMargin={0} tickLine={false} axisLine={{ stroke: INK }} tick={yearTick(8, -1)} allowDataOverflow />
          <YAxis yAxisId={0} type="number" domain={[1, 6.5]} ticks={rateTicksY} interval={0} width={68} tickSize={0} tickMargin={0} tickLine={false} axisLine={{ stroke: INK }} tick={leftTick(1, 9.5, 8)} />
          <YAxis yAxisId="r" orientation="right" type="number" domain={[1, 6.5]} ticks={rateTicksY} interval={0} width={48} tickSize={0} tickMargin={0} tickLine={false} axisLine={{ stroke: INK }} tick={rightTick(1, 9.5, 7)} />
          <Line yAxisId="r" data={rows(repoRate)} dataKey="v" type="stepAfter" stroke="#2f6aa6" strokeWidth={1.2} dot={false} isAnimationActive={false} />
          <Line data={rows(bond10y)} dataKey="v" type="linear" stroke={BLUE} strokeWidth={2.6} dot={false} isAnimationActive={false} />
          <Line data={rows(tbill3m)} dataKey="v" type="linear" stroke={RED} strokeWidth={2.6} dot={false} isAnimationActive={false} />
        </LineChart>
      </div>

      {/* Chart 3 */}
      <div style={abs(200, 782)}>
        <LineChart width={521} height={242} margin={{ top: 10, right: 0, left: 0, bottom: 0 }}>
          <CartesianGrid vertical={false} stroke={GRID} />
          {rateYears.slice(1).concat(2008).map((y) => (
            <ReferenceLine key={y} x={y} stroke={GRID} />
          ))}
          <ReferenceLine y={11.5} stroke="#666" />
          <ReferenceLine x={2008.24} stroke="#444" />
          <XAxis type="number" dataKey="t" domain={[2000, 2008.24]} ticks={yearTicksX} interval={0} height={24} tickSize={0} tickMargin={0} tickLine={false} axisLine={{ stroke: INK }} tick={yearTick(10, -1)} allowDataOverflow />
          <YAxis type="number" domain={[6, 11.5]} ticks={fxTicksY} interval={0} width={61} tickSize={0} tickMargin={0} tickLine={false} axisLine={{ stroke: INK }} tick={leftTick(1, 9.5, 6)} />
          <Line data={rows(eurSek)} dataKey="v" stroke={BLUE} strokeWidth={2.6} dot={false} isAnimationActive={false} />
          <Line data={rows(usdSek)} dataKey="v" stroke={RED} strokeWidth={2.6} dot={false} isAnimationActive={false} />
        </LineChart>
      </div>

      {/* Chart 4 */}
      <div style={abs(200, 1080)}>
        <LineChart width={521} height={252} margin={{ top: 10, right: 0, left: 0, bottom: 0 }}>
          <CartesianGrid vertical={false} stroke={GRID} />
          <ReferenceLine x={2007} stroke={GRID} />
          <ReferenceLine x={2008} stroke={GRID} />
          <ReferenceLine y={180} stroke="#666" />
          <ReferenceLine x={2008.12} stroke="#444" />
          <XAxis type="number" dataKey="t" domain={[2006, 2008.12]} ticks={monthTicksX} interval={0} height={36} tickSize={0} tickMargin={0} tickLine={false} axisLine={{ stroke: INK }} tick={monthTick} allowDataOverflow />
          <YAxis type="number" domain={[90, 180]} ticks={stockTicksY} interval={0} width={64} tickSize={0} tickMargin={0} tickLine={false} axisLine={{ stroke: INK }} tick={leftTick(0, 9, 6)} />
          <Line data={rows(nasdaq)} dataKey="v" stroke={RED} strokeWidth={2} dot={false} isAnimationActive={false} />
          <Line data={rows(msci)} dataKey="v" stroke={GREEN} strokeWidth={4} strokeDasharray="7 4" dot={false} isAnimationActive={false} />
          <Line data={rows(stockholm)} dataKey="v" stroke={BLUE} strokeWidth={2} dot={false} isAnimationActive={false} />
        </LineChart>
      </div>

      <svg width={960} height={1399} style={{ position: "absolute", left: 0, top: 0, pointerEvents: "none" }}>
        <path
          d="M 17 3 H 943 Q 957 3 957 17 V 1381 Q 957 1395 943 1395 H 128 Q 114 1395 114 1381 V 1352 Q 114 1338 100 1338 H 17 Q 3 1338 3 1324 V 17 Q 3 3 17 3 Z"
          fill="none"
          stroke="#58585a"
          strokeWidth={2.5}
        />
        <text x={64} y={1362} textAnchor="middle" dominantBaseline="central" fontSize={22} fontWeight={700} fill={ORANGE} fontFamily="'Open Sans', sans-serif">
          6
        </text>

        {/* chart 1 texts */}
        <Label x={245} y={188} size={13.6} anchor="start">Svensk BNP-tillväxt, 1998-2007, kvartalsvis</Label>
        <Label x={233} y={312} size={12} rotate={90}>%-förändring</Label>
        <Label x={726} y={443} size={10} anchor="end" italic>Source: Reuters EcoWin</Label>

        {/* chart 2 texts */}
        <Label x={245} y={484} size={13.5} anchor="start">Svenska ränteutvecklingen</Label>
        <Label x={233} y={606} size={12} rotate={90}>Procent</Label>
        <Label x={719} y={739} size={10} anchor="end" italic>Source: Reuters EcoWin</Label>
        <Label x={627} y={550}>10-årig statsobligation</Label>
        <Arrow x1={615} y1={557} x2={608} y2={595} />
        <Label x={492} y={610}>Riksbankens</Label>
        <Label x={502} y={625}>styrränta</Label>
        <Arrow x1={477} y1={620} x2={456} y2={625} />
        <Label x={482} y={703}>3-månaders statsskuldsväxel</Label>
        <Arrow x1={545} y1={688} x2={558} y2={679} />

        {/* chart 3 texts */}
        <Label x={238} y={776} size={15.1} anchor="start">Kronan gentemot dollarn och euron</Label>
        <Label x={720} y={1030} size={10} anchor="end" italic>Source: Reuters EcoWin</Label>
        <Label x={630} y={859}>EUR/SEK</Label>
        <Arrow x1={632} y1={866} x2={656} y2={873} />
        <Label x={606} y={905}>USD/SEK</Label>
        <Arrow x1={609} y1={912} x2={613} y2={931} />

        {/* chart 4 texts */}
        <Label x={238} y={1075} size={15.6} anchor="start">Börsutvecklingen, januari 2005 = 100</Label>
        <Label x={228} y={1192} size={12} rotate={90}>Index</Label>
        <Label x={722} y={1340} size={10} anchor="end" italic>Source: Reuters EcoWin</Label>
        <Label x={662} y={1101}>Stockholmsbörsen</Label>
        <Arrow x1={665} y1={1107} x2={661} y2={1135} />
        <Label x={392} y={1134}>Globalt börsindex (MSCI)</Label>
        <Arrow x1={395} y1={1140} x2={538} y2={1187} />
        <Label x={651} y={1265}>Nasdaq</Label>
        <Arrow x1={670} y1={1260} x2={695} y2={1243} />
      </svg>
    </div>
  );
}
